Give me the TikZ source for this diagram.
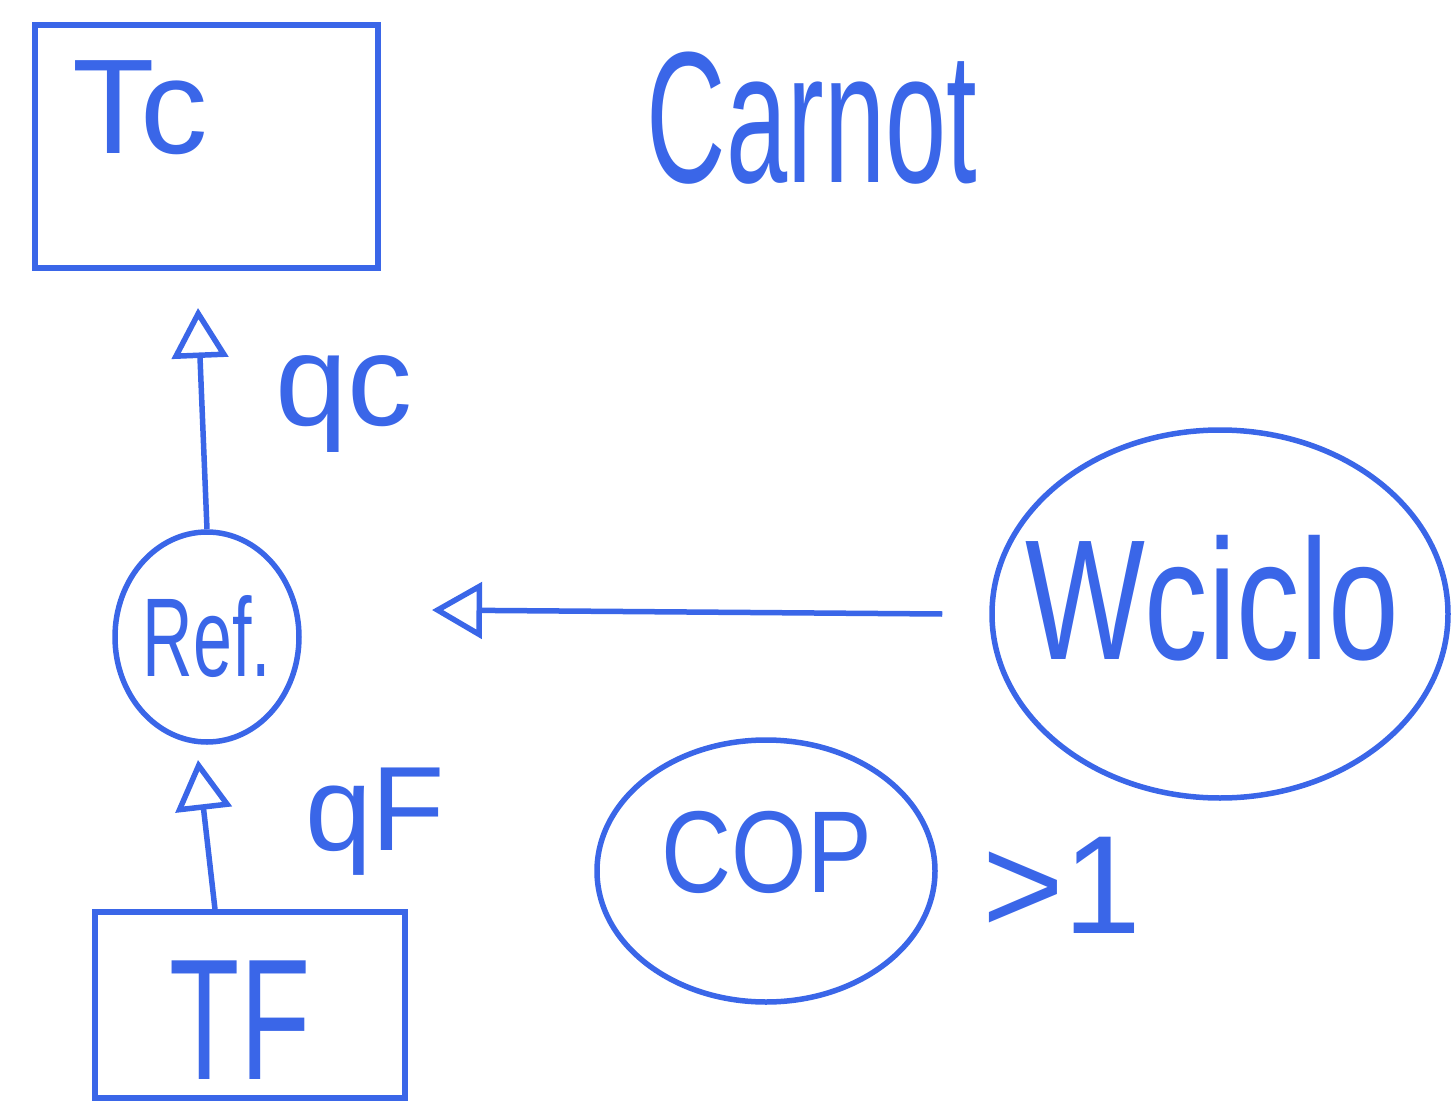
\documentclass[tikz,border=0pt]{standalone}
\usepackage{fontspec}
\setmainfont{Liberation Sans}
\usetikzlibrary{arrows.meta,shapes.geometric}
\definecolor{ink}{HTML}{3A66E8}
\newcommand{\hwsize}[1]{\fontsize{#1}{#1}\selectfont}
\begin{document}
\begin{tikzpicture}[x=1pt,y=-1pt,
  inkline/.style={draw=ink, line width=5.5pt},
  lbl/.style={text=ink, inner sep=0pt},
  boxnode/.style={inkline, rectangle, inner sep=0pt},
  ellnode/.style={inkline, ellipse, inner sep=0pt, text=ink},
  arr/.style={draw=ink, line width=5.5pt, -{Triangle[open,length=50pt,width=56pt]}}]
\useasboundingbox (0,0) rectangle (1452,1116);
% boxes
\node[boxnode, minimum width=343pt, minimum height=243pt] (tc) at (206.5,146.5) {};
\node[lbl] (tctext) at (140,108) {\hwsize{135}Tc};
\node[boxnode, minimum width=310pt, minimum height=186pt] (tf) at (250,1005) {};
\node[lbl] (tftext) at (240,1020) {\hwsize{115}\scalebox{1}[1.5]{TF}};
% title
\node[lbl] (carnot) at (812,118) {\hwsize{110}\scalebox{1}[1.7]{Carnot}};
% ellipses
\node[ellnode, minimum width=184pt, minimum height=210pt] (ref) at (207,637) {\hwsize{70}\scalebox{1}[1.6]{Ref.}};
\node[ellnode, minimum width=456pt, minimum height=368pt] (wciclo) at (1220,614) {};
\node[lbl] (wtext) at (1212,598) {\hwsize{127}\scalebox{1}[1.35]{Wciclo}};
\node[ellnode, minimum width=338pt, minimum height=262pt] (cop) at (766,871) {};
\node[lbl] (coptext) at (767,852) {\hwsize{97}\scalebox{1}[1.2]{COP}};
% labels
\node[lbl, anchor=base west] (qc) at (275,425) {\hwsize{130}qc};
\node[lbl, anchor=base west] (qf) at (305,850) {\hwsize{120}qF};
\node[lbl] (gtone) at (1062,885) {\hwsize{140}>1};
% connectors
\coordinate (qctip) at (198,308);
\coordinate (qftip) at (198,760);
\coordinate (wtip) at (432,610);
\draw[arr] (ref.north) -- (qctip);
\draw[arr] ([xshift=-35pt]tf.north) -- (qftip);
\draw[arr] ([xshift=-47pt]wciclo.west) -- (wtip);
\end{tikzpicture}
\end{document}
